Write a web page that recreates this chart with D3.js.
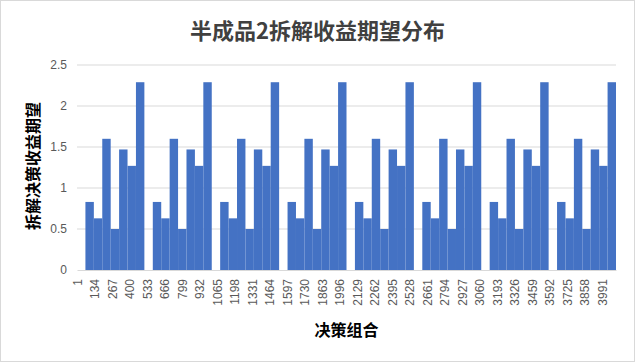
<!DOCTYPE html>
<html>
<head>
<meta charset="utf-8">
<script src="https://cdn.jsdelivr.net/npm/d3@7"></script>
<style>
  body { margin: 0; background: #fff; }
  text { font-family: "Liberation Sans", Arial, sans-serif; }
  .cjk { font-family: "Noto Sans CJK SC", sans-serif; }
</style>
</head>
<body>
<svg id="chart"></svg>
<script>
// Decision combinations 1..4096, values are constant over blocks of 64 combos
var comboCount = 4096;
var blockSize = 64;
var blockValues = [
  0, 0.83, 0.63, 1.6, 0.5, 1.47, 1.27, 2.29,
  0, 0.83, 0.63, 1.6, 0.5, 1.47, 1.27, 2.29,
  0, 0.83, 0.63, 1.6, 0.5, 1.47, 1.27, 2.29,
  0, 0.83, 0.63, 1.6, 0.5, 1.47, 1.27, 2.29,
  0, 0.83, 0.63, 1.6, 0.5, 1.47, 1.27, 2.29,
  0, 0.83, 0.63, 1.6, 0.5, 1.47, 1.27, 2.29,
  0, 0.83, 0.63, 1.6, 0.5, 1.47, 1.27, 2.29,
  0, 0.83, 0.63, 1.6, 0.5, 1.47, 1.27, 2.29
];
var xTickLabels = [1, 134, 267, 400, 533, 666, 799, 932, 1065, 1198, 1331, 1464,
  1597, 1730, 1863, 1996, 2129, 2262, 2395, 2528, 2661, 2794, 2927, 3060,
  3193, 3326, 3459, 3592, 3725, 3858, 3991];
var yTicks = [0, 0.5, 1, 1.5, 2, 2.5];

var W = 635, H = 362;
var margin = {top: 65, right: 19, bottom: 92, left: 77};
var width = W - margin.left - margin.right;
var height = H - margin.top - margin.bottom;

var svg = d3.select("#chart").attr("width", W).attr("height", H);

// chart border
svg.append("rect")
  .attr("x", 0.5).attr("y", 0.5)
  .attr("width", W - 1).attr("height", H - 1)
  .attr("fill", "#fff").attr("stroke", "#d9d9d9");

var chart = svg.append("g")
  .attr("transform", "translate(" + margin.left + "," + margin.top + ")");

var categories = d3.range(1, comboCount + 1);
var x = d3.scaleBand().domain(categories).range([0, width]);
var y = d3.scaleLinear().domain([0, 2.5]).range([height, 0]);

// gridlines
chart.selectAll(".grid")
  .data(yTicks.slice(1))
  .enter().append("line")
  .attr("x1", 0).attr("x2", width)
  .attr("y1", function(d) { return y(d); })
  .attr("y2", function(d) { return y(d); })
  .attr("stroke", "#d9d9d9").attr("stroke-width", 1);

// bars, one rect per block of combos
chart.selectAll(".bar")
  .data(blockValues)
  .enter().append("rect")
  .attr("class", "bar")
  .attr("x", function(d, i) { return x(i * blockSize + 1); })
  .attr("width", function(d, i) {
    return x((i + 1) * blockSize) + x.bandwidth() - x(i * blockSize + 1);
  })
  .attr("y", function(d) { return y(d); })
  .attr("height", function(d) { return height - y(d); })
  .attr("fill", "#4472c4");

// x axis
var xaxis = d3.axisBottom(x).tickValues(xTickLabels).tickSize(0).tickPadding(0);
var gx = chart.append("g")
  .attr("transform", "translate(0," + height + ")")
  .call(xaxis);
gx.select(".domain").attr("stroke", "#d9d9d9");
gx.selectAll("text")
  .attr("transform", "translate(0,9) rotate(-90)")
  .attr("dy", "0.35em")
  .attr("x", 0).attr("y", 0)
  .style("text-anchor", "end")
  .attr("fill", "#595959")
  .style("font-size", "12px");

// y axis
var yaxis = d3.axisLeft(y).tickValues(yTicks).tickFormat(function(d) { return String(d); })
  .tickSize(0).tickPadding(10);
var gy = chart.append("g").call(yaxis);
gy.select(".domain").remove();
gy.selectAll("text")
  .attr("fill", "#595959")
  .style("font-size", "12px");

// title
svg.append("text")
  .attr("class", "cjk")
  .attr("x", W / 2).attr("y", 31)
  .attr("dy", "0.35em")
  .attr("text-anchor", "middle")
  .attr("fill", "#404040")
  .style("font-size", "22px")
  .style("font-weight", "bold")
  .text("半成品2拆解收益期望分布");

// y axis title
svg.append("text")
  .attr("class", "cjk")
  .attr("transform", "translate(33,166) rotate(-90)")
  .attr("dy", "0.35em")
  .attr("text-anchor", "middle")
  .attr("fill", "#000")
  .style("font-size", "16px")
  .style("font-weight", "bold")
  .text("拆解决策收益期望");

// x axis title
svg.append("text")
  .attr("class", "cjk")
  .attr("x", margin.left + width / 2).attr("y", 330)
  .attr("dy", "0.35em")
  .attr("text-anchor", "middle")
  .attr("fill", "#000")
  .style("font-size", "16px")
  .style("font-weight", "bold")
  .text("决策组合");
</script>
</body>
</html>
